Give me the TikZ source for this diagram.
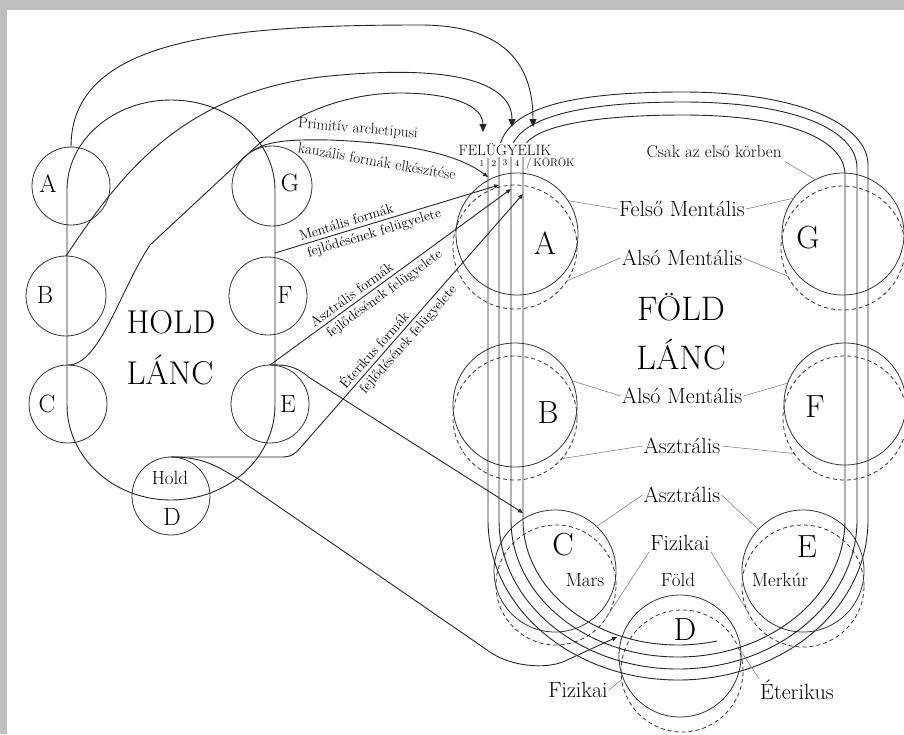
\documentclass[tikz,border=0pt]{standalone}
\usepackage{fontspec}
\usetikzlibrary{arrows.meta,positioning}
\newcommand{\fsz}[1]{\fontsize{#1}{#1}\selectfont}

\begin{document}
\begin{tikzpicture}[x=1pt,y=1pt,>={Triangle[width=7pt,length=8pt]},
  globe/.style={circle,draw=black!80,line width=0.8pt,minimum size=#1,inner sep=0pt,outer sep=0pt},
  ghost/.style={globe=#1,dash pattern=on 4pt off 3pt},
  route/.style={draw=black!85,line width=0.9pt},
  arr/.style={-{Triangle[width=4pt,length=5pt]}},
  leader/.style={draw=black!55,line width=0.5pt},
  tag/.style={inner sep=1pt,font=\fsz{22}},
  slant/.style={inner sep=3.5pt,font=\fsz{14}}]
  \fill[black!25] (0,0) rectangle (904,-734);
  \fill[white] (7,-10) rectangle (904,-734);
  \useasboundingbox (0,0) rectangle (904,-734);

  \node[globe=78pt] (mA) at (71,-186) {};
  \node[globe=80pt] (mB) at (66,-296) {};
  \node[globe=78pt] (mC) at (68,-404) {};
  \node[globe=78pt] (mD) at (171,-496) {};
  \node[globe=78pt] (mE) at (270,-404) {};
  \node[globe=78pt] (mF) at (268,-296) {};
  \node[globe=80pt] (mG) at (272,-186) {};
  \draw[route] (67,-190) -- (67,-405) arc[start angle=180,end angle=360,x radius=104,y radius=95]
    -- (275,-190) arc[start angle=0,end angle=180,x radius=104,y radius=90] -- cycle;
  \node[font=\fsz{25}] (lA) at (48,-184) {A};
  \node[font=\fsz{25}] (lB) at (45,-295) {B};
  \node[font=\fsz{25}] (lC) at (47,-404) {C};
  \node[font=\fsz{25}] (lG) at (290,-183) {G};
  \node[font=\fsz{25}] (lF) at (285,-295) {F};
  \node[font=\fsz{25}] (lE) at (288,-404) {E};
  \node[font=\fsz{19}] (lHold) at (170,-478) {Hold};
  \node[font=\fsz{25}] (lD) at (172,-517) {D};
  \node[font=\fsz{33}] (hold) at (171,-322) {HOLD};
  \node[font=\fsz{33}] (lanc1) at (170,-370) {LÁNC};

  \node[globe=122pt] (eA) at (517,-234) {};
  \node[ghost=124pt] (eAd) at (515,-247) {};
  \node[globe=122pt] (eG) at (843,-234) {};
  \node[ghost=124pt] (eGd) at (843,-248) {};
  \node[globe=124pt] (eB) at (515,-405) {};
  \node[ghost=124pt] (eBd) at (515,-418) {};
  \node[globe=122pt] (eF) at (845,-404) {};
  \node[ghost=124pt] (eFd) at (845,-418) {};
  \node[globe=122pt] (eC) at (555,-571) {};
  \node[ghost=120pt] (eCd) at (556,-585) {};
  \node[globe=122pt] (eD) at (680,-656) {};
  \node[ghost=122pt] (eDd) at (682,-671) {};
  \node[globe=122pt] (eE) at (803,-571) {};
  \node[ghost=122pt] (eEd) at (803,-586) {};

  \draw[route] (488,-158) -- (488,-520) arc[start angle=180,end angle=360,x radius=190,y radius=160]
    -- (868,-165) .. controls (868,-125) and (800,-92) .. (683,-92) .. controls (580,-92) and (505,-105) .. (499,-150)
    -- (499,-520) arc[start angle=180,end angle=360,x radius=179,y radius=149]
    -- (857,-168) .. controls (857,-130) and (795,-102) .. (683,-102) .. controls (590,-102) and (518,-115) .. (511,-150)
    -- (511,-520) arc[start angle=180,end angle=360,x radius=167,y radius=137]
    -- (845,-175) .. controls (845,-140) and (790,-115) .. (683,-115) .. controls (600,-115) and (528,-125) .. (523,-150)
    -- (523,-520) arc[start angle=180,end angle=284.6,x radius=155,y radius=125];

  \coordinate (k1) at (533,-127);
  \coordinate (k2) at (512,-127);
  \coordinate (k3) at (483,-132);
  \draw[route,->] (mA.north) .. controls (71,-40) and (220,-25) .. (420,-25) .. controls (500,-25) and (533,-60) .. (k1);
  \draw[route,->] (mB.north) .. controls (120,-175) and (180,-95) .. (320,-77) .. controls (460,-62) and (512,-85) .. (k2);
  \draw[route,->] (mC.north) .. controls (100,-365) and (120,-290) .. (150,-245) -- (250,-152)
    .. controls (300,-105) and (360,-93) .. (400,-93) .. controls (450,-93) and (483,-105) .. (k3);

  \coordinate (p1) at (488,-177);
  \coordinate (p2) at (499,-185);
  \coordinate (p3) at (511,-189);
  \coordinate (p4) at (523,-194);
  \coordinate (mloop) at (275,-253);
  \coordinate (m4) at (523,-513);
  \coordinate (d4) at (617,-637);
  \draw[route,arr] (mG.120) .. controls (265,-142) and (285,-139) .. (330,-140) .. controls (400,-143) and (455,-152) .. (p1);
  \draw[route,arr] (mloop)
    -- node[slant,sloped,above,pos=.33] (tMen1) {Mentális formák}
       node[slant,sloped,below,pos=.43] (tMen2) {fejlődésének felügyelete} (p2);
  \draw[route,arr] (mE.north)
    -- node[slant,sloped,above,pos=.36] (tAsz1) {Asztrális formák}
       node[slant,sloped,below,pos=.45] (tAsz2) {fejlődésének felügyelete} (p3);
  \draw[route,arr] (mD.north) -- (282,-457) .. controls (292,-457) and (296,-453) .. (301,-447)
    -- node[slant,sloped,above,pos=.36] (tEte1) {Éterikus formák}
       node[slant,sloped,below,pos=.45] (tEte2) {fejlődésének felügyelete} (p4);
  \draw[route,arr] (mE.north) .. controls (292,-364) and (300,-370) .. (310,-378) -- (m4);
  \draw[route,arr] (mD.north) .. controls (205,-457) and (218,-467) .. (240,-480) -- (490,-652)
    .. controls (510,-666) and (545,-670) .. (565,-661) -- (d4);

  \node[inner sep=1pt,fill=white,font=\fsz{15}] (felugy) at (505,-150) {FELÜGYELIK};
  \node[font=\fsz{9}] (r1) at (482,-163) {1};
  \node[font=\fsz{9}] (r2) at (494,-163) {2};
  \node[font=\fsz{9}] (r3) at (505,-163) {3};
  \node[font=\fsz{9}] (r4) at (517,-163) {4};
  \node[font=\fsz{11},anchor=west,inner sep=0pt] (korok) at (526,-163) {/\,KÖRÖK};

  \node[inner sep=0pt,font=\fsz{15},rotate=-5] (tPrim) at (358,-129) {Primitív archetipusi};
  \node[inner sep=0pt,font=\fsz{15},rotate=-10] (tKauz) at (377,-161) {kauzális formák elkészítése};

  \node[font=\fsz{32}] (lA2) at (545,-243) {A};
  \node[font=\fsz{32}] (lG2) at (808,-238) {G};
  \node[font=\fsz{32}] (lB2) at (548,-413) {B};
  \node[font=\fsz{32}] (lF2) at (815,-407) {F};
  \node[font=\fsz{32}] (lC2) at (563,-545) {C};
  \node[font=\fsz{32}] (lD2) at (685,-630) {D};
  \node[font=\fsz{32}] (lE2) at (807,-547) {E};
  \node[font=\fsz{19}] (mars) at (585,-580) {Mars};
  \node[font=\fsz{19}] (fold) at (678,-580) {Föld};
  \node[font=\fsz{19}] (merkur) at (780,-580) {Merkúr};
  \node[font=\fsz{34}] (foldc) at (681,-307) {FÖLD};
  \node[font=\fsz{34}] (lanc2) at (681,-355) {LÁNC};

  \node[font=\fsz{17}] (tCs) at (714,-152) {Csak az első körben};
  \node[tag] (tFM) at (682,-209) {Felső Mentális};
  \node[tag] (tAM1) at (682,-258) {Alsó Mentális};
  \node[tag] (tAM2) at (682,-396) {Alsó Mentális};
  \node[tag] (tAs1) at (682,-446) {Asztrális};
  \node[tag] (tAs2) at (682,-495) {Asztrális};
  \node[tag] (tFi1) at (680,-543) {Fizikai};
  \node[tag] (tFi2) at (578,-690) {Fizikai};
  \node[tag] (tEt) at (797,-690) {Éterikus};
  \draw[leader] (tCs.south east) -- (eG.117);
  \draw[leader] (tFM.west) -- (eA.33);
  \draw[leader] (tFM.east) -- (eG.144);
  \draw[leader] (tAM1.west) -- (eAd.-33);
  \draw[leader] (tAM1.east) -- (eGd.207);
  \draw[leader] (tAM2.west) -- (eB.23);
  \draw[leader] (tAM2.east) -- (eF.160);
  \draw[leader] (tAs1.west) -- (eBd.-41);
  \draw[leader] (tAs1.east) -- (eFd.215);
  \draw[leader] (tAs2.west) -- (eC.47);
  \draw[leader] (tAs2.east) -- (eE.137);
  \draw[leader] (tFi1.south west) -- (eCd.-35);
  \draw[leader] (tFi1.south east) -- (eEd.204);
  \draw[leader] (tFi2.east) -- (eDd.188);
  \draw[leader] (tEt.north west) -- (eD.5);
\end{tikzpicture}
\end{document}
